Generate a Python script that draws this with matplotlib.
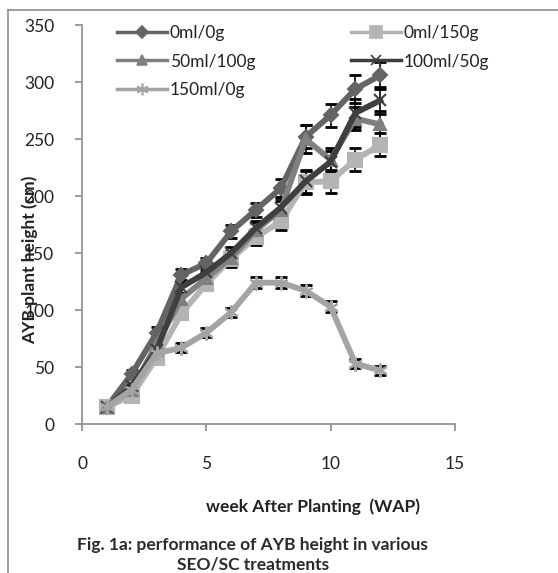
import matplotlib
matplotlib.use("Agg")
import matplotlib.pyplot as plt
from matplotlib.lines import Line2D

weeks = [1, 2, 3, 4, 5, 6, 7, 8, 9, 10, 11, 12]
labels = ["0ml/0g", "0ml/150g", "50ml/100g", "100ml/50g", "150ml/0g"]
s_0_0 = [15, 44, 80, 131, 141, 169, 188, 207, 252, 271, 294, 306]
s_0_150 = [15, 25, 58, 97, 123, 145, 164, 178, 212, 213, 232, 245]
s_50_100 = [15, 30, 70, 110, 128, 146, 170, 188, 250, 232, 268, 263]
s_100_50 = [15, 33, 65, 120, 133, 150, 172, 190, 213, 230, 273, 284]
s_150_0 = [15, 30, 62, 67, 80, 98, 124, 124, 117, 103, 53, 47]
e_0_0 = [3, 3, 5, 5, 5, 6, 6, 8, 10, 10, 12, 12]
e_0_150 = [3, 3, 4, 5, 5, 7, 7, 8, 10, 10, 10, 10]
e_50_100 = [3, 3, 4, 5, 5, 5, 6, 8, 12, 10, 10, 12]
e_100_50 = [3, 3, 4, 5, 5, 5, 6, 8, 10, 10, 12, 12]
e_150_0 = [3, 3, 3, 4, 4, 4, 5, 5, 5, 5, 4, 4]

series = [s_0_0, s_0_150, s_50_100, s_100_50, s_150_0]
errs = [e_0_0, e_0_150, e_50_100, e_100_50, e_150_0]
colors = ["#646464", "#b4b4b4", "#808080", "#3f3f3f", "#a4a4a4"]
markers = ["D", "s", "^", "x", (6, 2, 0)]
msizes = [7, 10, 9, 9, 10]

plt.rcParams['font.family'] = ['Lato', 'DejaVu Sans']

fig = plt.figure(figsize=(5.58, 5.73), dpi=100)
ax = fig.add_axes([0.147, 0.26, 0.668, 0.696])

handles = []
for y, e, c, m, ms, lab in zip(series, errs, colors, markers, msizes, labels):
    ax.errorbar(weeks, y, yerr=e, fmt='none', ecolor='black', elinewidth=1.2,
                capsize=4, capthick=2, zorder=2)
    ax.plot(weeks, y, color=c, lw=4.2, marker=m, markersize=ms,
            markeredgecolor=c, markerfacecolor=c, markeredgewidth=1.5, zorder=3,
            solid_joinstyle='round')
    handles.append(Line2D([], [], color=c, lw=2.5, marker=m, markersize=ms * 0.85,
                          markeredgecolor=c, markerfacecolor=c, markeredgewidth=1.2))

ax.set_xlim(0, 15)
ax.set_ylim(0, 350)
ax.set_xticks([0, 5, 10, 15])
ax.set_yticks(range(0, 351, 50))
for s in ["top", "right"]:
    ax.spines[s].set_visible(False)
for s in ["left", "bottom"]:
    ax.spines[s].set_color("#8c8c8c")
    ax.spines[s].set_linewidth(1.2)
ax.tick_params(axis='both', direction='out', length=5, color="#8c8c8c", width=1.2,
               labelsize=12.5, labelcolor="#222222")
ax.tick_params(axis='x', pad=18)
ax.tick_params(axis='y', pad=15)

# column-major fill gives row order: 0ml/0g, 0ml/150g / 50ml/100g, 100ml/50g / 150ml/0g
order = [0, 2, 4, 1, 3]
leg = ax.legend(handles=[handles[i] for i in order], labels=[labels[i] for i in order],
                ncol=2, loc='upper left',
                bbox_to_anchor=(0.075, 1.017), frameon=False, fontsize=12.5,
                handlelength=2.9, columnspacing=5.5, labelspacing=0.7,
                handletextpad=0.15, borderaxespad=0)
for t in leg.get_texts():
    t.set_color("#222222")

fig.text(30 / 558, 1 - 260 / 573, "AYB plant height (cm)", rotation=90,
         ha='center', va='center', fontsize=12.5, fontweight='bold', color='#222222')
fig.text(313 / 558, 1 - 507 / 573, "week After Planting  (WAP)", ha='center',
         va='center', fontsize=12.5, fontweight='bold', color='#222222')
fig.text(252 / 558, 1 - 545 / 573, "Fig. 1a: performance of AYB height in various",
         ha='center', va='center', fontsize=12.5, fontweight='bold', color='#2a2a2a')
fig.text(253 / 558, 1 - 564 / 573, "SEO/SC treatments",
         ha='center', va='center', fontsize=12.5, fontweight='bold', color='#2a2a2a')

# outer frame (top and left)
fig.add_artist(Line2D([8 / 558, 8 / 558], [0, 1 - 10 / 573], color="#8c8c8c", lw=1.2,
                      transform=fig.transFigure))
fig.add_artist(Line2D([8 / 558, 1], [1 - 10 / 573, 1 - 10 / 573], color="#8c8c8c", lw=1.2,
                      transform=fig.transFigure))

fig.savefig("out.png", dpi=100)
